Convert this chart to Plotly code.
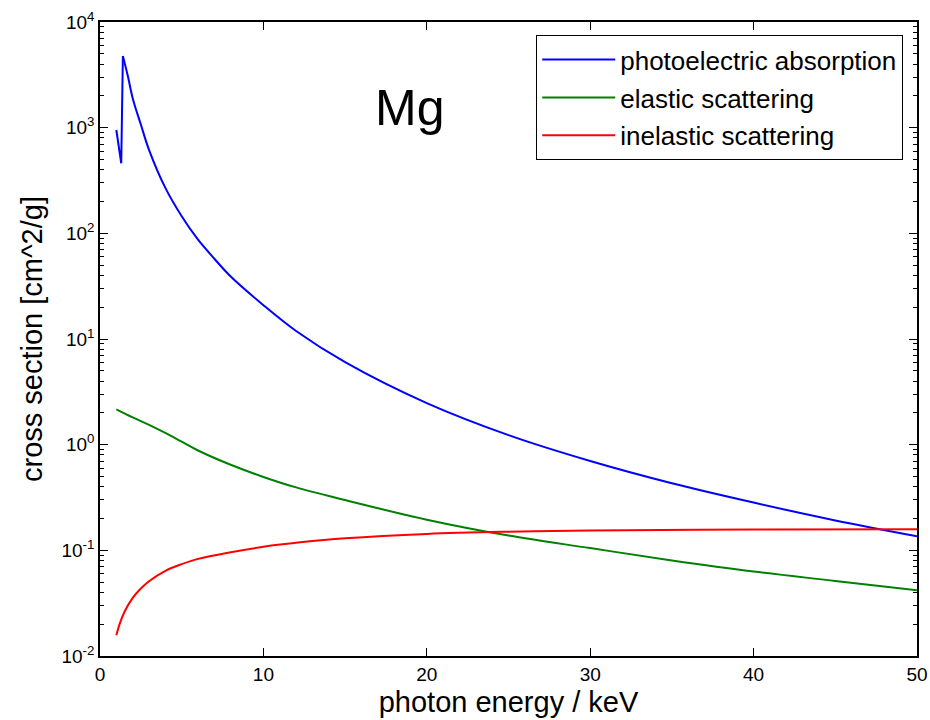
import plotly.graph_objects as go

# ---- data ----
energy_pe = [1.0, 1.3, 1.4, 1.7, 2.0, 2.5, 3.0, 4.0, 5.0, 6.0, 7.0, 8.0, 10.0, 12.0,
             15.0, 20.0, 25.0, 30.0, 35.0, 40.0, 45.0, 50.0]
sigma_pe = [950, 460, 4770, 3100, 1900, 1070, 617, 269, 145, 87, 57.5, 39, 20.9, 11.9,
            6.03, 2.47, 1.23, 0.70, 0.431, 0.283, 0.192, 0.136]

energy_el = [1.0, 2.0, 3.0, 4.0, 5.0, 6.0, 8.0, 10.0, 12.0, 15.0, 20.0, 25.0, 30.0,
             35.0, 40.0, 45.0, 50.0]
sigma_el = [2.16, 1.81, 1.54, 1.29, 1.067, 0.881, 0.645, 0.495, 0.394, 0.299, 0.195,
            0.138, 0.105, 0.0803, 0.063, 0.0513, 0.0418]

energy_inel = [1.0, 1.2, 1.5, 2.0, 2.5, 3.0, 4.0, 5.0, 6.0, 8.0, 10.0, 12.25, 15.0,
               20.0, 25.0, 30.0, 40.0, 50.0]
sigma_inel = [0.0157, 0.020, 0.0262, 0.0355, 0.0435, 0.051, 0.064, 0.074, 0.083,
              0.096, 0.108, 0.119, 0.130, 0.143, 0.150, 0.154, 0.1572, 0.158]

series_names = ["photoelectric absorption", "elastic scattering", "inelastic scattering"]
series_colors = ["#0000ff", "#008000", "#ff0000"]

x_ticks = [0, 10, 20, 30, 40, 50]
y_exponents = [-2, -1, 0, 1, 2, 3, 4]
element_label = "Mg"

edge = 2  # index of the point just above the absorption edge

FONT = "Liberation Sans, Arial, sans-serif"

fig = go.Figure()

# photoelectric: post-edge part (legend entry)
fig.add_trace(go.Scatter(
    x=energy_pe[edge:], y=sigma_pe[edge:], mode="lines",
    name=series_names[0], legendgroup="pe",
    line=dict(color=series_colors[0], width=2, shape="spline", smoothing=1.0),
))
# photoelectric: pre-edge part incl. jump
fig.add_trace(go.Scatter(
    x=energy_pe[:edge + 1], y=sigma_pe[:edge + 1], mode="lines",
    showlegend=False, legendgroup="pe",
    line=dict(color=series_colors[0], width=2),
))
fig.add_trace(go.Scatter(
    x=energy_el, y=sigma_el, mode="lines",
    name=series_names[1], legendgroup="el",
    line=dict(color=series_colors[1], width=2, shape="spline", smoothing=1.0),
))
fig.add_trace(go.Scatter(
    x=energy_inel, y=sigma_inel, mode="lines",
    name=series_names[2], legendgroup="inel",
    line=dict(color=series_colors[2], width=2, shape="spline", smoothing=1.0),
))

fig.add_annotation(
    x=0.3794, y=0.864, xref="paper", yref="paper",
    text=element_label, showarrow=False,
    font=dict(family=FONT, size=50, color="black"),
    xanchor="center", yanchor="middle",
)

fig.update_xaxes(
    range=[0, 50], tickvals=x_ticks, ticktext=[str(v) for v in x_ticks],
    ticks="inside", ticklen=8, tickwidth=1.2, tickcolor="black",
    showline=True, linecolor="black", linewidth=1.5, mirror="allticks",
    showgrid=False, zeroline=False, automargin=False,
    tickfont=dict(family=FONT, size=19, color="black"),
    title=dict(text="photon energy / keV", font=dict(family=FONT, size=29, color="black"),
               standoff=8),
)
fig.update_yaxes(
    type="log", range=[-2, 4],
    tickvals=[10 ** e for e in y_exponents],
    ticktext=["10<sup>%d</sup>" % e for e in y_exponents],
    ticks="inside", ticklen=8, tickwidth=1.2, tickcolor="black",
    showline=True, linecolor="black", linewidth=1.5, mirror="allticks",
    showgrid=False, zeroline=False, automargin=False,
    minor=dict(ticks="inside", ticklen=4, tickwidth=1, tickcolor="black",
               dtick="D1", showgrid=False),
    tickfont=dict(family=FONT, size=19, color="black"),
    title=dict(text="cross section [cm^2/g]", font=dict(family=FONT, size=29, color="black"),
               standoff=10),
)

fig.update_layout(
    width=930, height=720,
    margin=dict(l=100, r=13, t=22, b=64, autoexpand=False),
    paper_bgcolor="white", plot_bgcolor="white",
    font=dict(family=FONT, color="black"),
    legend=dict(
        x=0.9829, y=0.9795, xanchor="right", yanchor="top",
        bgcolor="white", bordercolor="black", borderwidth=1.2,
        font=dict(family=FONT, size=26, color="black"),
        tracegroupgap=1, traceorder="grouped",
        itemwidth=73,
    ),
)

fig.write_html("out.html")
